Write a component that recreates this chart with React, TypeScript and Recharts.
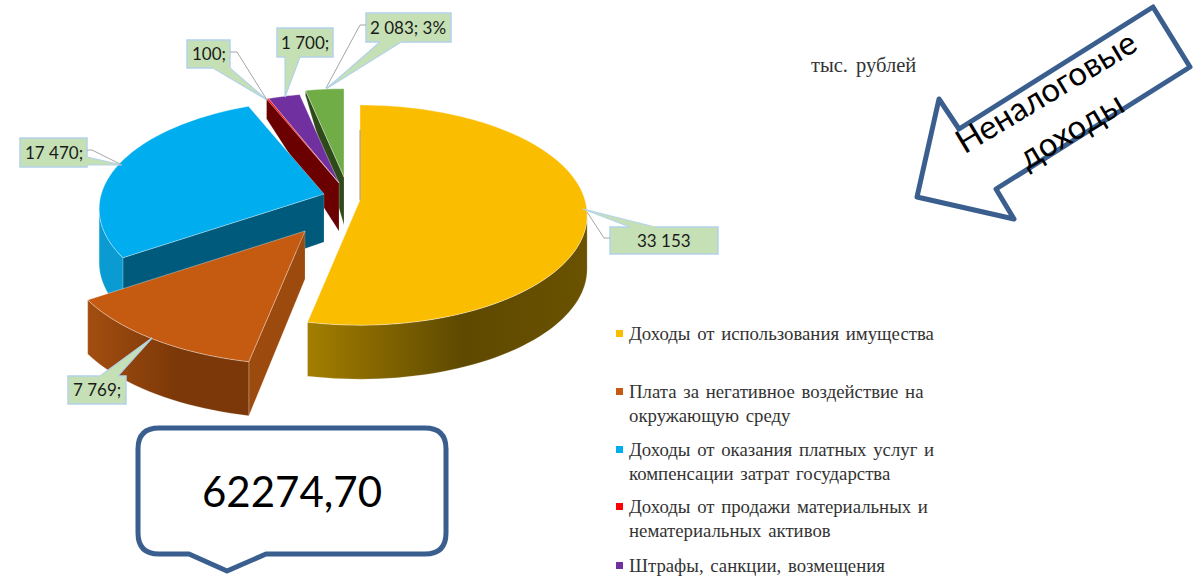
import { Legend, Pie, PieChart, Cell } from 'recharts';

const WIDTH = 1203;
const HEIGHT = 577;

const categories = [
  'Доходы от использования имущества',
  'Плата за негативное воздействие на\nокружающую среду',
  'Доходы от оказания платных услуг и\nкомпенсации затрат государства',
  'Доходы от продажи материальных и\nнематериальных активов',
  'Штрафы, санкции, возмещения',
  'Прочие неналоговые доходы',
];
const values = [33153, 7769, 17470, 100, 1700, 2083];
const labelSuffixes = ['', ';', ';', ';', ';', '; 3%'];
const colors = ['#FABD00', '#C55A11', '#00AEEF', '#FF0000', '#7030A0', '#70AD47'];

// far slices first, so the near ones paint over them
const tableData = categories
  .map((name, i) => ({ name, value: values[i], fill: colors[i], index: i }))
  .reverse();

// how each slice is pulled out of the pie, and its wall colours
const sliceStyles = [
  { dx: 0, dy: 0, s: 1, cut: '#8a6b00', cutDepth: 54, wallA: '#A37E00', wallB: '#5E4900' },
  { dx: -55, dy: 31, s: 1.07, cut: '#9C4A0D', cutDepth: 54, wallA: '#A34E10', wallB: '#7C3808' },
  { dx: -36, dy: -6, s: 0.99, cut: '#005A7C', cutDepth: 54, wallA: '#0A9BD2', wallB: '#0A9BD2' },
  { dx: -21, dy: -17, s: 0.95, cut: '#6A0000', cutDepth: 20, wallA: '#6A0000', wallB: '#6A0000' },
  { dx: -21, dy: -17, s: 0.95, cut: '#42205F', cutDepth: 20, wallA: '#42205F', wallB: '#42205F' },
  { dx: -16, dy: -23, s: 0.93, cut: '#2F4A1A', cutDepth: 5, wallA: '#2F4A1A', wallB: '#2F4A1A' },
];

const callouts = [
  { box: [610, 227, 108, 27], base: [[630, 227], [655, 227]], tip: [583, 209], lead: [[610, 238], [604, 238], [587, 212]], textX: 637 },
  { box: [68, 376, 58, 28], base: [[100, 376], [118, 376]], tip: [152, 338], lead: null, textX: 73 },
  { box: [20, 138, 67, 29], base: [[87, 157], [87, 165]], tip: [122, 165], lead: [[87, 150], [92, 150], [122, 165]], textX: 25 },
  { box: [187, 40, 43, 28], base: [[213, 68], [230, 68]], tip: [267, 100], lead: [[230, 52], [237, 52], [267, 100]], textX: 192 },
  { box: [277, 28, 56, 29], base: [[285, 57], [300, 57]], tip: [285, 97], lead: null, textX: 281 },
  { box: [366, 13, 85, 29], base: [[380, 42], [401, 42]], tip: [326, 89], lead: [[366, 25], [360, 25], [326, 88]], textX: 370 },
];

const legendTops = [322, 380, 438, 495, 554];

const RY_RATIO = 0.48;
const PERSP = 0.137;
const APEX_DEPTH = 48;
const RIM_DEPTH = 54;

const formatValue = (v: number) => String(v).replace(/\B(?=(\d{3})+$)/g, ' ');

function Slice3D(props: any) {
  const { cx, cy, outerRadius, startAngle, endAngle, fill, payload } = props;
  const idx = payload.index;
  const st = sliceStyles[idx];
  const ax = cx + st.dx;
  const ay = cy + st.dy;
  const R = outerRadius * st.s;
  const from = (90 - endAngle + 720) % 360;
  const to = from + (endAngle - startAngle);

  // perspective projection of a point on the rim
  const rim = (deg: number) => {
    const t = (deg * Math.PI) / 180;
    const w = 1 + PERSP * Math.cos(t);
    return {
      x: ax + (R * Math.sin(t)) / w,
      y: ay - (R * RY_RATIO * Math.cos(t)) / w,
    };
  };
  const steps = (a: number, b: number) => {
    const out: number[] = [];
    const n = Math.max(1, Math.ceil((b - a) / 2));
    for (let i = 0; i <= n; i++) out.push(a + ((b - a) * i) / n);
    return out;
  };

  const arc = steps(from, to).map(rim);
  const top = `M${ax},${ay} ` + arc.map((p) => `L${p.x},${p.y}`).join(' ') + ' Z';

  // radial wall on the clockwise-start side
  const s0 = rim(from);
  const cut = `M${ax},${ay} L${s0.x},${s0.y} L${s0.x},${s0.y + st.cutDepth} L${ax},${ay + APEX_DEPTH} Z`;
  const isFirst = from < 0.01;

  // outer wall, only the part that is on the near side of the rim
  const wallFrom = Math.max(from, 98);
  const wallTo = Math.min(to, 262);
  let wall = '';
  if (wallFrom < wallTo) {
    const pts = steps(wallFrom, wallTo).map(rim);
    wall =
      pts.map((p, i) => `${i ? 'L' : 'M'}${p.x},${p.y}`).join(' ') +
      ' ' +
      [...pts].reverse().map((p) => `L${p.x},${p.y + RIM_DEPTH}`).join(' ') +
      ' Z';
  }

  return (
    <g>
      <defs>
        <linearGradient id={`wall-${idx}`} x1="0" y1="0" x2="1" y2="0">
          <stop offset="0%" stopColor={st.wallA} />
          <stop offset="55%" stopColor={st.wallB} />
          <stop offset="100%" stopColor={idx === 0 ? '#6A5200' : st.wallB} />
        </linearGradient>
      </defs>
      {!isFirst && <path d={cut} fill={st.cut} stroke="rgba(255,255,255,0.25)" strokeWidth={0.7} />}
      {wall && <path d={wall} fill={`url(#wall-${idx})`} stroke="rgba(255,255,255,0.3)" strokeWidth={0.7} />}
      <path d={top} fill={fill} stroke="rgba(255,255,255,0.45)" strokeWidth={0.8} />
      {isFirst && <line x1={ax} y1={s0.y + 25} x2={ax} y2={ay} stroke="#9a9a80" strokeWidth={1} />}
    </g>
  );
}

function renderCallout(props: any) {
  const idx = props.payload?.index ?? props.index;
  const c = callouts[idx];
  const [x, y, w, h] = c.box;
  const midY = y + h / 2;
  const tri = [c.base[0], c.tip, c.base[1]].map((p) => p.join(',')).join(' ');
  return (
    <g key={idx}>
      <rect x={x} y={y} width={w} height={h} fill="#C5E0B4" stroke="#B3D2EA" strokeWidth={1.5} />
      <polygon points={tri} fill="#C5E0B4" stroke="#B3D2EA" strokeWidth={1.2} />
      <line x1={c.base[0][0]} y1={c.base[0][1]} x2={c.base[1][0]} y2={c.base[1][1]} stroke="#C5E0B4" strokeWidth={2} />
      {c.lead && (
        <polyline points={c.lead.map((p) => p.join(',')).join(' ')} fill="none" stroke="#A6A6A6" strokeWidth={1} />
      )}
      <text x={c.textX} y={midY + 6} fontFamily="Lato, 'Open Sans', sans-serif" fontSize={17} fill="#1a1a1a">
        {formatValue(values[idx]) + labelSuffixes[idx]}
      </text>
    </g>
  );
}

function renderLegend({ payload }: any) {
  // the sixth entry falls below the edge of the picture
  const rows = categories
    .slice(0, 5)
    .map((name) => (payload || []).find((p: any) => p.value === name))
    .filter(Boolean);
  return (
    <div>
      {rows.map((item: any, i: number) => (
        <div key={i} style={{ position: 'absolute', left: 616, top: legendTops[i] }}>
          <span
            style={{
              position: 'absolute',
              left: 0,
              top: 8,
              width: 7,
              height: 7,
              background: item.color,
            }}
          />
          <div
            style={{
              marginLeft: 13,
              whiteSpace: 'pre',
              fontFamily: "'Liberation Serif', serif",
              fontSize: 18.8,
              lineHeight: '24px',
              wordSpacing: 2,
              color: '#333',
            }}
          >
            {item.value}
          </div>
        </div>
      ))}
    </div>
  );
}

export default function App() {
  const blue = '#3A5F8F';
  return (
    <div style={{ position: 'absolute', left: 0, top: 0, width: WIDTH, height: HEIGHT, overflow: 'hidden', background: '#fff' }}>
      <PieChart width={WIDTH} height={HEIGHT} margin={{ top: 0, right: 0, bottom: 0, left: 0 }}>
        <Pie
          data={tableData}
          dataKey="value"
          nameKey="name"
          cx={360}
          cy={200}
          innerRadius={0}
          outerRadius={225}
          startAngle={90}
          endAngle={450}
          stroke="none"
          shape={Slice3D}
          label={renderCallout}
          labelLine={false}
          isAnimationActive={false}
        >
          {tableData.map((d) => (
            <Cell key={d.name} fill={d.fill} />
          ))}
        </Pie>
        <Legend
          content={renderLegend}
          wrapperStyle={{ position: 'absolute', left: 0, top: 0, width: WIDTH, height: 0 }}
        />
      </PieChart>

      <svg width={WIDTH} height={HEIGHT} style={{ position: 'absolute', left: 0, top: 0, pointerEvents: 'none' }}>
        <text x={811} y={72} fontFamily="'Liberation Serif', serif" fontSize={20.5} wordSpacing={3} fill="#333">
          тыс. рублей
        </text>

        <polygon
          points="1153,7 1190,67 996,189 1014,219 917,197 939,99 959,129"
          fill="#fff"
          stroke={blue}
          strokeWidth={5}
          strokeLinejoin="round"
        />
        <g fontFamily="Lato, 'Open Sans', sans-serif" fontSize={33} fill="#000" textAnchor="middle">
          <text transform="translate(1052,102) rotate(-31)">Неналоговые</text>
          <text transform="translate(1077,140) rotate(-31)">доходы</text>
        </g>

        <path
          d="M159,428 H425 Q446,428 446,449 V533 Q446,554 425,554 H266 L227,571 L189,554 H159 Q138,554 138,533 V449 Q138,428 159,428 Z"
          fill="#fff"
          stroke={blue}
          strokeWidth={5}
          strokeLinejoin="round"
        />
        <text x={292} y={507} textAnchor="middle" fontFamily="Lato, 'Open Sans', sans-serif" fontSize={42} fill="#000">
          62274,70
        </text>
      </svg>
    </div>
  );
}
